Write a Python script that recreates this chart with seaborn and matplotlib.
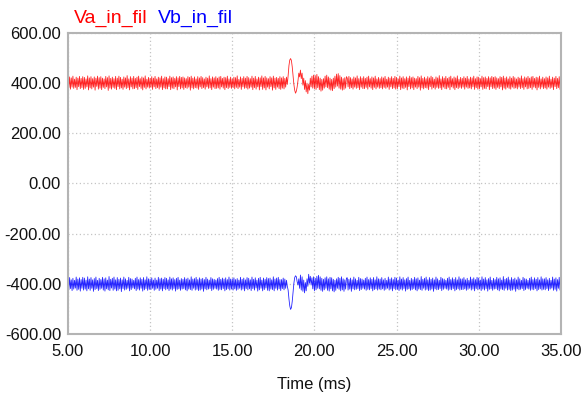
import numpy as np
import pandas as pd
import matplotlib
matplotlib.use("Agg")
import matplotlib.pyplot as plt
import seaborn as sns

# sampled every 0.05 ms from 5.0 ms to 35.0 ms, one row per millisecond
va_in_fil = [
    418, 381, 425, 376, 421, 384, 428, 379, 416, 383, 424, 374, 420, 386, 427, 378, 419, 382, 426, 375,
    423, 379, 417, 385, 429, 373, 421, 381, 426, 377, 418, 384, 425, 372, 420, 387, 428, 376, 422, 380,
    426, 374, 420, 383, 417, 378, 427, 385, 422, 371, 429, 380, 419, 376, 424, 383, 418, 379, 427, 374,
    420, 386, 428, 377, 423, 381, 416, 375, 425, 384, 421, 378, 430, 382, 417, 373, 426, 385, 420, 377,
    427, 378, 419, 382, 424, 375, 428, 386, 418, 379, 425, 373, 421, 383, 429, 377, 416, 384, 423, 380,
    419, 383, 426, 375, 420, 385, 427, 378, 417, 382, 424, 376, 421, 384, 428, 374, 418, 381, 425, 377,
    424, 377, 418, 386, 428, 374, 422, 380, 425, 378, 419, 385, 426, 373, 421, 386, 427, 377, 423, 381,
    425, 375, 421, 382, 418, 379, 426, 384, 423, 372, 428, 381, 420, 377, 425, 382, 417, 380, 426, 375,
    421, 385, 427, 378, 422, 382, 417, 376, 424, 385, 420, 379, 429, 381, 418, 374, 425, 384, 421, 378,
    426, 379, 420, 381, 425, 376, 427, 385, 419, 380, 424, 374, 422, 382, 428, 378, 417, 383, 424, 379,
    417, 382, 424, 377, 422, 383, 429, 378, 415, 384, 425, 375, 419, 385, 426, 379, 420, 381, 427, 376,
    422, 380, 418, 384, 428, 374, 420, 382, 427, 376, 417, 385, 424, 373, 421, 386, 429, 375, 421, 381,
    427, 373, 421, 384, 418, 377, 426, 386, 421, 372, 428, 381, 420, 375, 423, 384, 419, 378, 426, 375,
    421, 380, 426, 377, 419, 384, 424, 395, 430, 470, 492, 498, 490, 465, 430, 395, 372, 360, 368, 385,
    410, 440, 425, 452, 418, 440, 392, 420, 375, 410, 365, 400, 358, 395, 372, 420, 385, 428, 380, 432,
    378, 430, 375, 435, 382, 426, 374, 420, 368, 415, 372, 418, 380, 428, 385, 432, 382, 425, 376, 420,
    372, 415, 370, 420, 378, 428, 384, 436, 388, 438, 380, 430, 376, 424, 372, 418, 375, 422, 380, 426,
    420, 385, 427, 378, 422, 382, 417, 376, 425, 384, 421, 379, 429, 382, 418, 374, 426, 384, 420, 378,
    426, 378, 419, 383, 424, 376, 428, 385, 418, 380, 425, 374, 421, 383, 428, 377, 417, 384, 423, 379,
    418, 382, 425, 377, 421, 383, 427, 379, 416, 384, 424, 375, 420, 385, 426, 378, 419, 381, 427, 376,
    423, 378, 417, 386, 428, 374, 421, 380, 426, 378, 418, 383, 425, 373, 420, 386, 428, 377, 422, 381,
    425, 374, 420, 384, 418, 378, 427, 384, 422, 372, 429, 381, 419, 377, 424, 382, 418, 380, 426, 374,
    421, 386, 428, 376, 423, 382, 416, 376, 425, 383, 421, 379, 430, 381, 417, 374, 426, 384, 420, 378,
    427, 377, 419, 383, 424, 374, 428, 385, 418, 380, 425, 374, 421, 382, 429, 378, 416, 383, 423, 379,
    419, 384, 426, 376, 420, 384, 427, 379, 417, 381, 424, 377, 421, 385, 428, 375, 418, 382, 425, 376,
    424, 378, 418, 385, 428, 375, 422, 379, 425, 377, 419, 386, 426, 374, 421, 385, 427, 378, 423, 380,
    426, 375, 421, 383, 418, 378, 426, 385, 423, 373, 428, 380, 420, 376, 425, 383, 417, 379, 426, 376,
    420, 384, 427, 379, 422, 381, 417, 377, 424, 384, 420, 378, 429, 382, 418, 375, 425, 385, 421, 377,
    427, 379, 420, 382, 425, 375, 427, 384, 419, 381, 424, 373, 422, 383, 428, 377, 417, 384, 424, 378,
    418, 381, 425, 376, 421, 384, 428, 379, 416, 383, 424, 374, 420, 386, 427, 378, 419, 382, 426, 375,
    424,
]

vb_in_fil = [
    -380, -424, -375, -419, -384, -427, -378, -421, -386, -417, -373, -426, -381, -422, -376, -429, -383, -418, -374, -425,
    -377, -421, -385, -428, -372, -420, -381, -426, -375, -418, -384, -430, -379, -423, -373, -419, -386, -427, -378, -422,
    -383, -418, -374, -425, -380, -429, -376, -420, -385, -424, -371, -427, -382, -417, -378, -426, -373, -421, -384, -428,
    -375, -426, -382, -420, -377, -431, -384, -419, -373, -425, -380, -422, -386, -418, -374, -428, -379, -423, -381, -417,
    -386, -420, -378, -427, -373, -421, -383, -425, -376, -418, -382, -429, -375, -424, -384, -419, -372, -426, -380, -422,
    -381, -423, -376, -418, -385, -426, -377, -422, -385, -418, -374, -427, -380, -421, -377, -428, -382, -419, -375, -424,
    -378, -420, -384, -427, -373, -421, -380, -425, -376, -419, -383, -429, -378, -422, -374, -420, -385, -426, -379, -421,
    -382, -419, -375, -424, -381, -428, -377, -421, -384, -423, -372, -426, -381, -418, -379, -425, -374, -422, -383, -427,
    -376, -425, -381, -421, -378, -430, -383, -420, -374, -424, -381, -421, -385, -419, -375, -427, -380, -422, -382, -418,
    -385, -421, -379, -426, -374, -422, -382, -424, -377, -419, -381, -428, -376, -423, -383, -420, -373, -425, -381, -421,
    -380, -425, -376, -420, -383, -426, -379, -422, -385, -418, -374, -425, -382, -421, -377, -428, -384, -419, -375, -424,
    -378, -420, -384, -427, -373, -419, -382, -425, -376, -417, -385, -429, -378, -424, -374, -418, -385, -428, -377, -423,
    -382, -417, -375, -426, -379, -428, -377, -421, -384, -423, -372, -428, -381, -418, -377, -425, -374, -420, -383, -427,
    -383, -419, -377, -424, -381, -418, -386, -410, -425, -460, -488, -502, -495, -470, -432, -398, -375, -368, -372, -392,
    -405, -380, -418, -365, -425, -372, -430, -385, -436, -395, -428, -380, -410, -362, -398, -370, -405, -376, -420, -372,
    -428, -378, -424, -370, -418, -366, -420, -372, -426, -378, -430, -382, -424, -376, -418, -372, -426, -380, -429, -374,
    -420, -376, -428, -382, -432, -386, -426, -380, -418, -374, -422, -378, -428, -372, -424, -380, -430, -384, -421, -377,
    -376, -425, -382, -421, -377, -430, -384, -420, -373, -424, -380, -422, -386, -419, -374, -427, -379, -423, -381, -418,
    -385, -421, -378, -426, -373, -422, -383, -424, -376, -419, -382, -428, -375, -423, -384, -420, -372, -425, -380, -421,
    -381, -424, -375, -420, -384, -426, -378, -422, -386, -418, -373, -425, -381, -421, -376, -428, -383, -419, -374, -424,
    -377, -422, -385, -427, -372, -421, -381, -425, -375, -419, -384, -429, -379, -422, -373, -420, -386, -426, -378, -423,
    -383, -419, -374, -424, -380, -428, -376, -421, -385, -423, -371, -426, -382, -418, -378, -425, -373, -422, -384, -427,
    -375, -425, -382, -421, -377, -430, -384, -420, -373, -424, -380, -423, -386, -419, -374, -427, -379, -422, -381, -418,
    -386, -421, -378, -426, -373, -422, -383, -424, -376, -419, -382, -428, -375, -423, -384, -420, -372, -425, -380, -423,
    -380, -423, -375, -420, -384, -426, -378, -422, -386, -418, -373, -425, -381, -421, -376, -428, -383, -419, -374, -424,
    -377, -420, -385, -427, -372, -421, -381, -425, -375, -419, -384, -429, -379, -422, -373, -420, -386, -426, -378, -421,
    -383, -419, -374, -424, -380, -428, -376, -421, -385, -423, -371, -426, -382, -418, -378, -425, -373, -422, -384, -427,
    -375, -425, -382, -421, -377, -430, -384, -420, -373, -424, -380, -422, -386, -419, -374, -427, -379, -423, -381, -418,
    -386, -421, -378, -426, -373, -422, -383, -424, -376, -419, -382, -428, -375, -423, -384, -420, -372, -425, -380, -422,
    -380, -424, -375, -419, -384, -427, -378, -421, -386, -417, -373, -426, -381, -422, -376, -429, -383, -418, -374, -425,
    -377,
]

time_ms = np.round(5.0 + 0.05 * np.arange(len(va_in_fil)), 2)
x_ticks = [5, 10, 15, 20, 25, 30, 35]
y_ticks = [-600, -400, -200, 0, 200, 400, 600]

df = pd.DataFrame({"Time": time_ms, "Va_in_fil": va_in_fil, "Vb_in_fil": vb_in_fil})

sns.set_style("white")
plt.rcParams["font.family"] = ["Liberation Sans", "DejaVu Sans"]

fig = plt.figure(figsize=(5.83, 3.94), dpi=100)
ax = fig.add_axes([0.1166, 0.1523, 0.8454, 0.7640])

sns.lineplot(data=df, x="Time", y="Va_in_fil", color="#ff0000", linewidth=0.6, alpha=0.85, ax=ax)
sns.lineplot(data=df, x="Time", y="Vb_in_fil", color="#0000ff", linewidth=0.6, alpha=0.85, ax=ax)

ax.set_xlim(5, 35)
ax.set_ylim(-600, 600)
ax.set_xticks(x_ticks)
ax.set_yticks(y_ticks)
ax.set_xticklabels([f"{v:.2f}" for v in x_ticks])
ax.set_yticklabels([f"{v:.2f}" for v in y_ticks])
ax.tick_params(axis="y", length=0, pad=5, labelsize=12, colors="#111111")
ax.tick_params(axis="x", length=0, pad=7, labelsize=12, colors="#111111")
ax.grid(True, linestyle=(0, (1, 2)), color="#c4c4c4", linewidth=0.9)

for s in ax.spines.values():
    s.set_color("#b4b4b4")
    s.set_linewidth(1.5)

ax.set_xlabel("Time (ms)", fontsize=12, labelpad=13, color="#111111")
ax.set_ylabel("")

fig.text(74 / 583, 1 - 18 / 394, "Va_in_fil", color="#ff0000", fontsize=14, ha="left", va="center")
fig.text(158 / 583, 1 - 18 / 394, "Vb_in_fil", color="#0000ff", fontsize=14, ha="left", va="center")

fig.savefig("out.png", dpi=100)
